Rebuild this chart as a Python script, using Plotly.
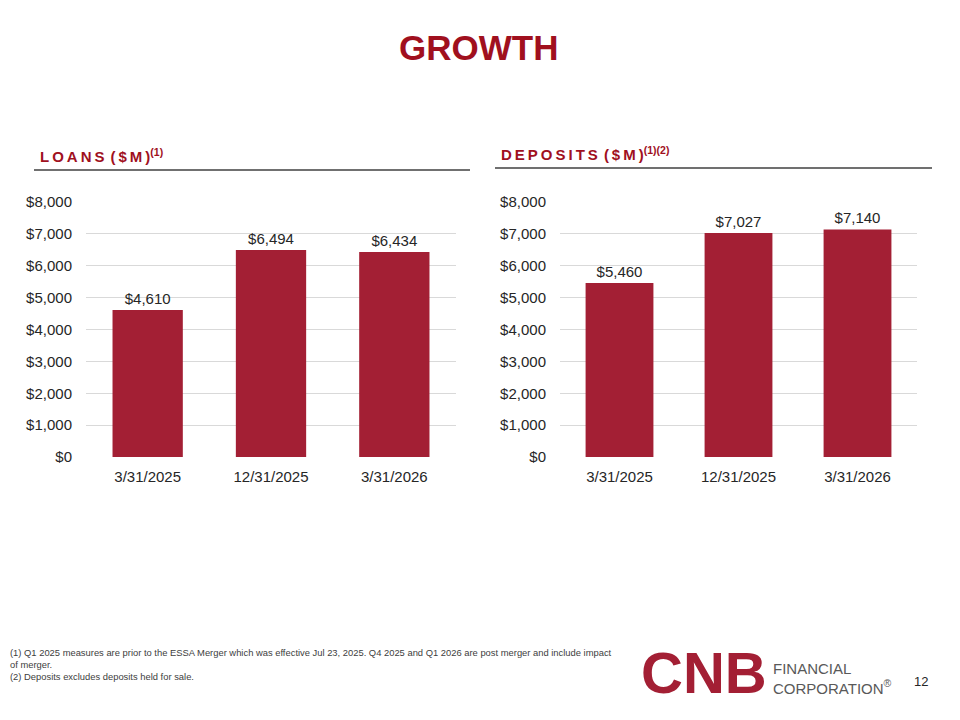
import plotly.graph_objects as go

# data
dates = ["3/31/2025", "12/31/2025", "3/31/2026"]
loans = [4610, 6494, 6434]
deposits = [5460, 7027, 7140]
y_ticks = [0, 1000, 2000, 3000, 4000, 5000, 6000, 7000, 8000]
y_tick_text = ["$0", "$1,000", "$2,000", "$3,000", "$4,000", "$5,000", "$6,000", "$7,000", "$8,000"]

red = "#A31F34"
title_red = "#A0101E"
txt = "#262626"
ts = "\u2009"  # thin space, fakes the letter spacing of the headers

# the page body has an 8px margin, so shift all positions by it
OFF = 8


def px(x):
    return (x - OFF) / 960


def py(y):
    return 1 - (y - OFF) / 720


def money(v):
    return "${:,}".format(v)


def spaced(s):
    return ts.join(s)


fig = go.Figure()

fig.add_trace(go.Bar(x=dates, y=loans, marker_color=red, width=0.57,
                     text=[money(v) for v in loans], textposition="outside",
                     textfont=dict(size=15, color=txt), cliponaxis=False,
                     xaxis="x", yaxis="y"))
fig.add_trace(go.Bar(x=dates, y=deposits, marker_color=red, width=0.57,
                     text=[money(v) for v in deposits], textposition="outside",
                     textfont=dict(size=15, color=txt), cliponaxis=False,
                     xaxis="x2", yaxis="y2"))

ax_y = dict(range=[0, 8000], tickvals=y_ticks, ticktext=y_tick_text,
            showgrid=True, gridcolor="#D9D9D9", gridwidth=1, zeroline=False,
            tickfont=dict(size=15, color=txt), ticks="", automargin=False,
            ticklabelstandoff=13, fixedrange=True)
ax_x = dict(showgrid=False, showline=False, ticks="", automargin=False,
            ticklabelstandoff=9, tickfont=dict(size=15, color=txt))

fig.update_layout(
    template="none",
    width=960, height=720,
    margin=dict(l=0, r=0, t=0, b=0),
    paper_bgcolor="white", plot_bgcolor="white",
    showlegend=False,
    font=dict(family="Liberation Sans, Arial, sans-serif"),
    xaxis=dict(domain=[px(86), px(456)], anchor="y", **ax_x),
    yaxis=dict(domain=[py(457), py(202)], anchor="x", **ax_y),
    xaxis2=dict(domain=[px(560), px(917)], anchor="y2", **ax_x),
    yaxis2=dict(domain=[py(457), py(202)], anchor="x2", **ax_y),
)

# title
fig.add_annotation(x=px(478), y=py(47), xref="paper", yref="paper",
                   xanchor="center", yanchor="middle", text="<b>GROWTH</b>", showarrow=False,
                   font=dict(size=35, color=title_red))

# section headers
fig.add_annotation(x=px(38), y=py(156), xref="paper", yref="paper",
                   xanchor="left", yanchor="middle",
                   text="<b>" + spaced("LOANS") + ts + ts + spaced("($M)") + "<sup>(1)</sup></b>",
                   showarrow=False, font=dict(size=15, color=title_red))
fig.add_annotation(x=px(499), y=py(154), xref="paper", yref="paper",
                   xanchor="left", yanchor="middle",
                   text="<b>" + spaced("DEPOSITS") + ts + ts + spaced("($M)") + "<sup>(1)(2)</sup></b>",
                   showarrow=False, font=dict(size=15, color=title_red))
fig.add_shape(type="line", xref="paper", yref="paper",
              x0=px(34), x1=px(470), y0=py(170), y1=py(170),
              line=dict(color="#404040", width=1.5))
fig.add_shape(type="line", xref="paper", yref="paper",
              x0=px(495), x1=px(932), y0=py(168), y1=py(168),
              line=dict(color="#404040", width=1.5))

# footnotes
fig.add_annotation(x=px(8), y=py(645), xref="paper", yref="paper",
                   xanchor="left", yanchor="top", align="left", showarrow=False,
                   text="(1) Q1 2025 measures are prior to the ESSA Merger which was effective Jul 23, 2025. Q4 2025 and Q1 2026 are post merger and include impact<br>"
                        "of merger.<br>(2) Deposits excludes deposits held for sale.",
                   font=dict(size=9.4, color="#404040"))

# logo
fig.add_annotation(x=px(639), y=py(672), xref="paper", yref="paper",
                   xanchor="left", yanchor="middle", showarrow=False, text="<b>CNB</b>",
                   font=dict(size=58, color=red))
fig.add_annotation(x=px(771), y=py(678), xref="paper", yref="paper",
                   xanchor="left", yanchor="middle", align="left", showarrow=False,
                   text="FINANCIAL<br>CORPORATION<sup>®</sup>",
                   font=dict(size=15, color="#595959"))

# page number
fig.add_annotation(x=px(921), y=py(681), xref="paper", yref="paper",
                   xanchor="center", yanchor="middle", showarrow=False, text="12",
                   font=dict(size=13, color="#262626"))

fig.write_html("out.html")
